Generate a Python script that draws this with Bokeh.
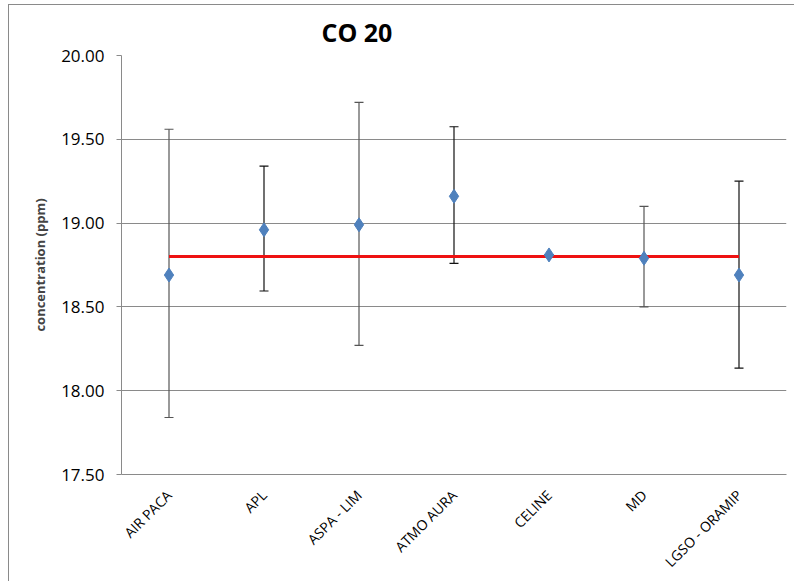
from bokeh.plotting import figure
from bokeh.models import FixedTicker, NumeralTickFormatter, Range1d, FactorRange, Whisker, ColumnDataSource, TeeHead
from bokeh.embed import file_html
from bokeh.resources import INLINE
import math

categories = ["AIR PACA", "APL", "ASPA - LIM", "ATMO AURA", "CELINE", "MD", "LGSO - ORAMIP"]
values = [18.69, 18.96, 18.99, 19.16, 18.81, 18.79, 18.69]
upper = [19.56, 19.34, 19.72, 19.575, 18.81, 19.10, 19.25]
lower = [17.84, 18.595, 18.27, 18.76, 18.81, 18.50, 18.135]
bar_colors = ["#555555", "#111111", "#555555", "#111111", "#111111", "#555555", "#111111"]
reference_value = 18.80
y_ticks = [17.5, 18.0, 18.5, 19.0, 19.5, 20.0]
title_text = "CO 20"

p = figure(width=786, height=577, x_range=FactorRange(*categories), y_range=Range1d(17.5, 20.0),
           output_backend="svg", toolbar_location=None,
           min_border_left=112, min_border_right=9, min_border_top=47, min_border_bottom=108)
p.styles = {"margin-left": "8px", "margin-top": "4px",
            "border-left": "1px solid #8a8a8a", "border-top": "1px solid #8a8a8a"}
p.outline_line_color = None
p.background_fill_color = "white"

p.title.text = title_text
p.title.text_font = "Open Sans"
p.title.text_font_size = "25px"
p.title.text_font_style = "bold"
p.title.text_color = "#000000"
p.title.align = "left"
p.title.offset = 197
p.title.standoff = 8
try:
    p.title.padding = 3
except Exception:
    pass

p.yaxis.ticker = FixedTicker(ticks=y_ticks)
p.yaxis.formatter = NumeralTickFormatter(format="0.00")
p.yaxis.axis_label = "concentration (ppm)"
p.yaxis.axis_label_text_font = "Open Sans"
p.yaxis.axis_label_text_font_style = "bold"
p.yaxis.axis_label_text_font_size = "13px"
p.yaxis.axis_label_standoff = 9
p.yaxis.major_label_text_font = "Open Sans"
p.yaxis.major_label_text_font_size = "17px"
p.yaxis.major_label_text_color = "#000000"
p.yaxis.major_label_standoff = 12
p.yaxis.axis_line_color = "#8a8a8a"
p.yaxis.major_tick_line_color = "#8a8a8a"
p.yaxis.major_tick_out = 5
p.yaxis.major_tick_in = 0
p.yaxis.minor_tick_line_color = None

p.xaxis.major_label_orientation = math.pi / 4
p.xaxis.major_label_text_font = "Open Sans"
p.xaxis.major_label_text_font_size = "14px"
p.xaxis.major_label_text_color = "#000000"
p.xaxis.axis_line_color = "#8a8a8a"
p.xaxis.major_tick_line_color = None
p.xaxis.major_label_standoff = 12

p.xgrid.grid_line_color = None
p.ygrid.grid_line_color = "#8a8a8a"
p.ygrid.ticker = FixedTicker(ticks=y_ticks)

src = ColumnDataSource(dict(x=categories, y=values, up=upper, lo=lower, c=bar_colors))
w = Whisker(base="x", upper="up", lower="lo", source=src, line_color="c", line_width=1.2,
            upper_head=TeeHead(size=9, line_color="c", line_width=1.2),
            lower_head=TeeHead(size=9, line_color="c", line_width=1.2))
p.add_layout(w)

p.line(x=[categories[0], categories[-1]], y=[reference_value, reference_value], line_color="#ee1111", line_width=3)

p.scatter(x="x", y="y", source=src, marker="diamond", size=14, fill_color="#4f81bd", line_color="#4f81bd")

open("out.html", "w").write(file_html(p, INLINE))
